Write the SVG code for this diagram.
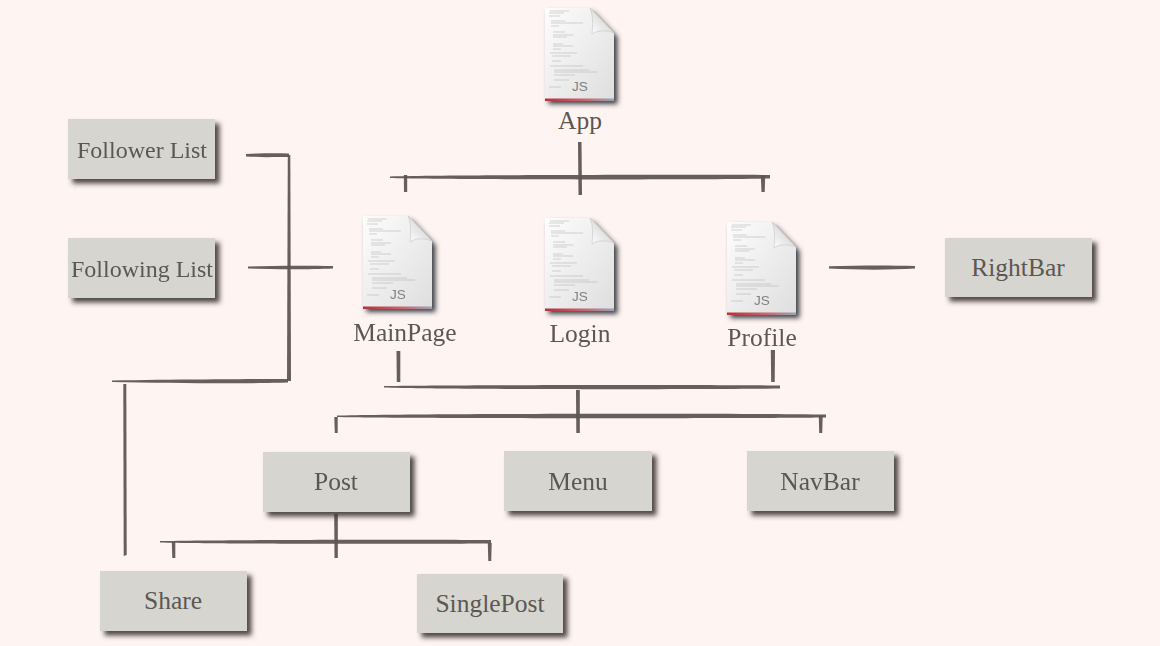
<svg xmlns="http://www.w3.org/2000/svg" width="1160" height="646" viewBox="0 0 1160 646">
<style>
.box{fill:#d6d5d0;filter:url(#boxShadow)}
.lbl{font-family:"Liberation Serif",serif;font-size:25.500px;fill:#5b5853;text-anchor:middle}
.narrow{font-size:24px}
.ink{fill:#5f5452;opacity:.95}
.code{stroke:#a8a8a8;stroke-width:.5;fill:none}
</style>
<defs>
<filter id="boxShadow" x="-15%" y="-20%" width="130%" height="150%"><feDropShadow dx="4.500" dy="4.500" stdDeviation="2.800" flood-color="#3a3431" flood-opacity=".9"/></filter>
<filter id="docShadow" x="-20%" y="-20%" width="140%" height="140%"><feDropShadow dx="3.500" dy="4" stdDeviation="2.800" flood-color="#33363c" flood-opacity=".95"/></filter>
<filter id="soft" x="-5%" y="-5%" width="110%" height="110%"><feGaussianBlur stdDeviation=".6"/></filter>
<linearGradient id="page" x1="0" y1="0" x2="1" y2="1"><stop offset="0" stop-color="#fdfdfd"/><stop offset="1" stop-color="#dedede"/></linearGradient>
<linearGradient id="fold" x1="0" y1="1" x2="1" y2="0"><stop offset="0" stop-color="#ffffff"/><stop offset="1" stop-color="#c4c4c4"/></linearGradient>
<linearGradient id="stripe"><stop offset="0" stop-color="#b5303c"/><stop offset=".55" stop-color="#c8646c"/><stop offset="1" stop-color="#9aa3b5"/></linearGradient>
<g id="doc">
<path d="M0 0H45L69 25V92H0Z" fill="url(#page)" filter="url(#docShadow)"/>
<path d="M0 90.500H69V93H0Z" fill="url(#stripe)"/>
<path d="M45 0L69 25C62 22 52 22 47 26C48 16 48 7 45 0Z" fill="url(#fold)" stroke="#bdbdbd" stroke-width=".5"/>
<path class="code" d="M5 3H24M4 5H19M4 8H15M6 13H20M6 15H38M6 18H14M8 24H20M8 27H28M8 29H22M8 36H18M8 38H28M8 41H16M5 45H32M7 48H26M7 53H16M5 58H38M9 62H44M9 64H52M9 67H30M9 72H24M4 79H16"/>
<text x="35" y="83" font-family="Liberation Sans,sans-serif" font-size="13.500" fill="#808080" text-anchor="middle">JS</text>
</g>
</defs>
<rect width="1160" height="646" fill="#fef4f1"/>
<g id="connectors" filter="url(#soft)">
<path class="ink" d="M246 154C258 153 275 153 289 153.500L289 157C275 157 258 157.500 246 156.500Z"/>
<path class="ink" d="M287.800 155L290.300 155L291 381L287 381Z"/>
<path class="ink" d="M248 266.500C275 265.500 310 265.500 333 266C333 268 333 268.500 333 268.500C310 269.500 275 269.500 248 268.500Z"/>
<path class="ink" d="M112 380.500C170 379.500 240 379 288 379L288 382.500C240 384 170 383 112 382Z"/>
<path class="ink" d="M123.300 384L126.300 384L126.700 555L123.700 556Z"/>
<path class="ink" d="M390 176.500C450 175 700 174.500 770 175L770 178.500C700 180 450 179.500 390 178Z"/>
<path class="ink" d="M578 142L581.500 142L582 195L578.500 195Z"/>
<path class="ink" d="M403.800 175H407.200L407.200 192H404Z"/>
<path class="ink" d="M760.800 175H765.200L764.700 192H761.500Z"/>
<path class="ink" d="M829 266.300C860 265.300 890 265.300 915 266C915 268 915 268.500 915 268.500C890 270 860 270 829 268.500Z"/>
<path class="ink" d="M384 386C450 385 700 384.500 780 385.500L780 388.500C700 389.500 450 389.500 384 387.500Z"/>
<path class="ink" d="M396.500 351L400.300 351L400.300 382H396.800Z"/>
<path class="ink" d="M770.800 350L775 350L774.700 382H771.200Z"/>
<path class="ink" d="M576 390L579.800 390L579.800 433H576.300Z"/>
<path class="ink" d="M337 415.500C400 413.500 750 413 826 414.500L826 417.500C750 418.500 400 418.500 337 417Z"/>
<path class="ink" d="M334.300 417H337.700L337.700 433H334.800Z"/>
<path class="ink" d="M818.800 416H822.700L822.200 433H819.200Z"/>
<path class="ink" d="M334.200 514H337.800L337.800 558H334.500Z"/>
<path class="ink" d="M160 541C220 539.800 420 539.200 491 540L491 543.500C420 544 220 544 160 542.500Z"/>
<path class="ink" d="M171.800 542H175.300L175.300 558H172.300Z"/>
<path class="ink" d="M487.800 543H491.700L491.200 561H488.300Z"/>
</g>
<g id="app"><use href="#doc" x="545" y="8"/><text class="lbl" x="580" y="129">App</text></g>
<g id="mainpage"><use href="#doc" x="363" y="216"/><text class="lbl" x="405" y="341">MainPage</text></g>
<g id="login"><use href="#doc" x="545" y="218"/><text class="lbl" x="580" y="342">Login</text></g>
<g id="profile"><use href="#doc" x="727" y="222"/><text class="lbl" x="762" y="346">Profile</text></g>
<g id="follower-list"><rect class="box" x="68" y="119" width="147" height="60"/><text class="lbl narrow" x="142" y="158">Follower List</text></g>
<g id="following-list"><rect class="box" x="68" y="238" width="147" height="60"/><text class="lbl narrow" x="142" y="277">Following List</text></g>
<g id="rightbar"><rect class="box" x="945" y="238" width="147" height="59"/><text class="lbl" x="1018" y="276">RightBar</text></g>
<g id="post"><rect class="box" x="263" y="452" width="147" height="60"/><text class="lbl" x="336" y="490">Post</text></g>
<g id="menu"><rect class="box" x="504" y="451" width="148" height="60"/><text class="lbl" x="578" y="490">Menu</text></g>
<g id="navbar"><rect class="box" x="747" y="451" width="147" height="60"/><text class="lbl" x="820" y="490">NavBar</text></g>
<g id="share"><rect class="box" x="100" y="571" width="147" height="60"/><text class="lbl" x="173" y="609">Share</text></g>
<g id="singlepost"><rect class="box" x="417" y="574" width="146" height="59"/><text class="lbl" x="490" y="612">SinglePost</text></g>
</svg>
